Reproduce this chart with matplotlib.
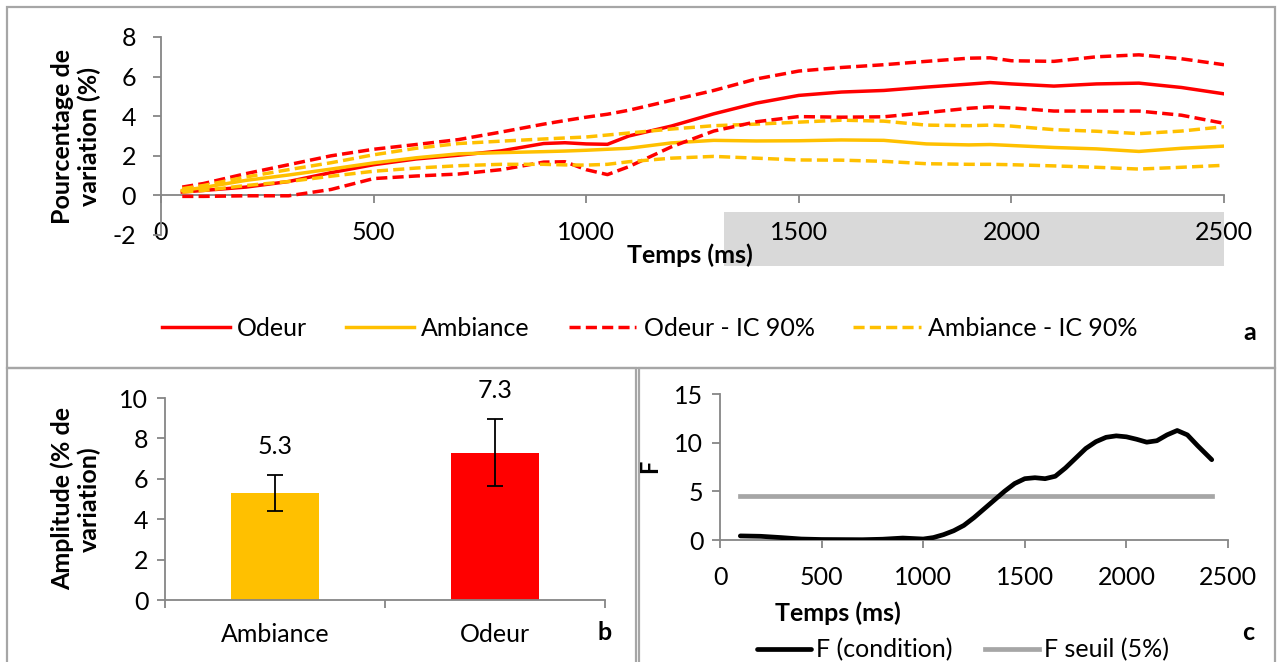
import matplotlib
matplotlib.use("Agg")
import matplotlib.pyplot as plt
from matplotlib.patches import Rectangle
import matplotlib.transforms as mtransforms

plt.rcParams['font.family'] = ['Lato', 'DejaVu Sans']
plt.rcParams['axes.unicode_minus'] = False

# ---------------- Data ----------------
# Panel a: time course (ms) and % variation
time_a = [50, 100, 200, 300, 400, 500, 600, 700, 800, 900, 950, 1000, 1050, 1100,
          1200, 1300, 1400, 1500, 1600, 1700, 1800, 1900, 1950, 2000, 2100, 2200,
          2300, 2400, 2500]
odeur = [0.17, 0.25, 0.42, 0.70, 1.15, 1.55, 1.84, 2.03, 2.25, 2.62, 2.66, 2.60, 2.58, 3.00,
         3.50, 4.12, 4.66, 5.05, 5.22, 5.30, 5.47, 5.62, 5.70, 5.63, 5.52, 5.63,
         5.67, 5.45, 5.13]
odeur_up = [0.42, 0.60, 1.10, 1.55, 2.00, 2.33, 2.57, 2.82, 3.20, 3.60, 3.78, 3.95, 4.10, 4.30,
            4.80, 5.30, 5.88, 6.28, 6.46, 6.60, 6.77, 6.93, 6.95, 6.80, 6.77, 7.00,
            7.10, 6.90, 6.60]
odeur_lo = [-0.05, -0.05, -0.02, -0.02, 0.30, 0.85, 0.98, 1.08, 1.30, 1.68, 1.70, 1.30, 1.05, 1.45,
            2.45, 3.25, 3.72, 3.98, 3.95, 3.97, 4.18, 4.40, 4.47, 4.42, 4.26, 4.26,
            4.26, 4.05, 3.64]
ambiance = [0.25, 0.40, 0.76, 1.03, 1.33, 1.64, 1.90, 2.10, 2.16, 2.21, 2.24, 2.28, 2.33, 2.38,
            2.65, 2.78, 2.75, 2.76, 2.80, 2.78, 2.60, 2.55, 2.57, 2.52, 2.42, 2.35,
            2.22, 2.38, 2.49]
ambiance_up = [0.34, 0.50, 0.93, 1.30, 1.65, 2.05, 2.38, 2.62, 2.74, 2.85, 2.90, 2.95, 3.05, 3.15,
               3.35, 3.52, 3.60, 3.70, 3.80, 3.75, 3.55, 3.52, 3.55, 3.50, 3.32, 3.24,
               3.12, 3.25, 3.47]
ambiance_lo = [0.17, 0.25, 0.50, 0.70, 0.97, 1.22, 1.38, 1.50, 1.57, 1.57, 1.54, 1.53, 1.57, 1.70,
               1.88, 1.97, 1.88, 1.79, 1.78, 1.72, 1.60, 1.57, 1.57, 1.55, 1.49, 1.42,
               1.33, 1.42, 1.52]
signif_start = 1324  # ms, start of highlighted window
signif_end = 2500

# Panel b: amplitude
bar_categories = ['Ambiance', 'Odeur']
bar_values = [5.3, 7.3]
bar_errors = [0.87, 1.66]
bar_colors = ['#FFC000', '#FF0000']

# Panel c: F statistic
time_c = [100, 200, 300, 400, 500, 600, 700, 800, 900, 1000, 1050, 1100, 1150, 1200, 1250,
          1300, 1350, 1400, 1450, 1500, 1550, 1600, 1650, 1700, 1750, 1800, 1850, 1900,
          1950, 2000, 2050, 2100, 2150, 2200, 2250, 2300, 2350, 2420]
f_cond = [0.42, 0.38, 0.25, 0.10, 0.05, 0.04, 0.03, 0.08, 0.20, 0.10, 0.25, 0.55, 0.95, 1.50, 2.30,
          3.20, 4.10, 5.00, 5.80, 6.30, 6.40, 6.30, 6.55, 7.40, 8.40, 9.40, 10.10, 10.55,
          10.70, 10.60, 10.35, 10.05, 10.20, 10.80, 11.25, 10.80, 9.70, 8.25]
f_seuil_time = [100, 2420]
f_seuil = [4.5, 4.5]

RED = '#FF0000'
ORANGE = '#FFC000'
AXC = '#868686'
FS = 18
FSB = 18
DASH = (0, (3.2, 1.5))

fig = plt.figure(figsize=(12.78, 6.62), dpi=100)

W, H = 1278.0, 662.0


def border(x0, y0, x1, y1):
    fig.patches.append(Rectangle((x0 / W, 1 - y1 / H), (x1 - x0) / W, (y1 - y0) / H,
                                 transform=fig.transFigure, fill=False,
                                 edgecolor='#A6A6A6', linewidth=1.6, zorder=0))


border(7, 7, 1275, 368)
border(7, 368, 636, 664)
border(639, 368, 1275, 664)


def style_axes(ax):
    for s in ['top', 'right']:
        ax.spines[s].set_visible(False)
    for s in ['left', 'bottom']:
        ax.spines[s].set_color(AXC)
        ax.spines[s].set_linewidth(1.3)
    ax.tick_params(colors=AXC, labelcolor='black', labelsize=FS, width=1.3, length=6)


# ---------------- Panel a ----------------
axa = fig.add_axes([161 / W, 1 - 235 / H, 1063 / W, 198 / H])
style_axes(axa)
lw = 2.5
axa.plot(time_a, odeur, color=RED, lw=lw, label='Odeur')
axa.plot(time_a, ambiance, color=ORANGE, lw=lw, label='Ambiance')
axa.plot(time_a, odeur_up, color=RED, lw=lw, ls=DASH, label='Odeur - IC 90%')
axa.plot(time_a, ambiance_up, color=ORANGE, lw=lw, ls=DASH, label='Ambiance - IC 90%')
axa.plot(time_a, odeur_lo, color=RED, lw=lw, ls=DASH)
axa.plot(time_a, ambiance_lo, color=ORANGE, lw=lw, ls=DASH)
axa.set_xlim(0, 2500)
axa.set_ylim(-2, 8)
axa.set_yticks([-2, 0, 2, 4, 6, 8])
axa.set_xticks([0, 500, 1000, 1500, 2000, 2500])
axa.spines['bottom'].set_visible(False)
axa.tick_params(axis='x', length=0, pad=-10)
axa.tick_params(axis='y', direction='out', length=6, pad=12)
sec = axa.secondary_xaxis(0.2)
sec.set_xticks([0, 500, 1000, 1500, 2000, 2500])
sec.set_xticklabels([])
sec.spines['bottom'].set_color(AXC)
sec.spines['bottom'].set_linewidth(1.3)
sec.tick_params(colors=AXC, width=1.3, length=6, direction='out')
trans = mtransforms.blended_transform_factory(axa.transData, axa.transAxes)
axa.add_patch(Rectangle((signif_start, -0.157), signif_end - signif_start, 0.273,
                        transform=trans, facecolor='#D9D9D9', edgecolor='none',
                        clip_on=False, zorder=-1))
fig.text(690 / W, 1 - 255 / H, 'Temps (ms)', ha='center', va='center',
         fontsize=FSB, fontweight='bold')
fig.text(76 / W, 1 - 137 / H, 'Pourcentage de\nvariation (%)', ha='center',
         va='center', rotation=90, fontsize=FSB, fontweight='bold', linespacing=1.15)
handles, labels = axa.get_legend_handles_labels()
fig.legend(handles, labels, loc='center', bbox_to_anchor=(650 / W, 1 - 328 / H),
           ncol=4, frameon=False, fontsize=FS, handlelength=2.7, handletextpad=0.3,
           columnspacing=1.55)
fig.text(1250 / W, 1 - 333 / H, 'a', ha='center', va='center', fontsize=FSB,
         fontweight='bold')

# ---------------- Panel b ----------------
axb = fig.add_axes([165 / W, 1 - 600 / H, 440 / W, 202 / H])
style_axes(axb)
xpos = [0.5, 1.5]
axb.bar(xpos, bar_values, width=0.4, color=bar_colors, zorder=2)
axb.errorbar(xpos, bar_values, yerr=bar_errors, fmt='none', ecolor='black', elinewidth=1.3,
             capsize=6, capthick=1.3, zorder=3)
for x, v, e in zip(xpos, bar_values, bar_errors):
    axb.annotate(f'{v:.1f}', (x, v + e), xytext=(0, 29), textcoords='offset pixels',
                 ha='center', va='center', fontsize=FS)
axb.set_xlim(0, 2)
axb.set_ylim(0, 10)
axb.set_yticks([0, 2, 4, 6, 8, 10])
axb.tick_params(axis='y', pad=6)
axb.set_xticks([0, 1, 2])
axb.set_xticklabels([])
axb.set_xticks(xpos, minor=True)
axb.set_xticklabels(bar_categories, minor=True)
axb.tick_params(axis='x', which='minor', length=0, pad=16.5, labelsize=FS)
fig.text(76 / W, 1 - 499 / H, 'Amplitude (% de\nvariation)', ha='center',
         va='center', rotation=90, fontsize=FSB, fontweight='bold', linespacing=1.15)
fig.text(605 / W, 1 - 632 / H, 'b', ha='center', va='center', fontsize=FSB,
         fontweight='bold')

# ---------------- Panel c ----------------
axc = fig.add_axes([720 / W, 1 - 540 / H, 508 / W, 146 / H])
style_axes(axc)
axc.plot(time_c, f_cond, color='black', lw=3.4, label='F (condition)',
         solid_capstyle='round', solid_joinstyle='round', zorder=3)
axc.plot(f_seuil_time, f_seuil, color='#A6A6A6', lw=3.4, label='F seuil (5%)', zorder=2)
axc.set_xlim(0, 2500)
axc.set_ylim(0, 15)
axc.set_yticks([0, 5, 10, 15])
axc.set_xticks([0, 500, 1000, 1500, 2000, 2500])
axc.tick_params(axis='x', pad=12.5)
axc.tick_params(axis='y', pad=6)
fig.text(838 / W, 1 - 613 / H, 'Temps (ms)', ha='center', va='center',
         fontsize=FSB, fontweight='bold')
fig.text(650 / W, 1 - 466 / H, 'F', ha='center', va='center', rotation=90,
         fontsize=FSB - 1, fontweight='bold')
h, l = axc.get_legend_handles_labels()
fig.legend(h, l, loc='center', bbox_to_anchor=(963 / W, 1 - 650 / H), ncol=2,
           frameon=False, fontsize=FS, handlelength=2.15, handletextpad=0.2,
           columnspacing=1.3)
fig.text(1248 / W, 1 - 633 / H, 'c', ha='center', va='center', fontsize=FSB,
         fontweight='bold')

fig.savefig('out.png', dpi=100)
